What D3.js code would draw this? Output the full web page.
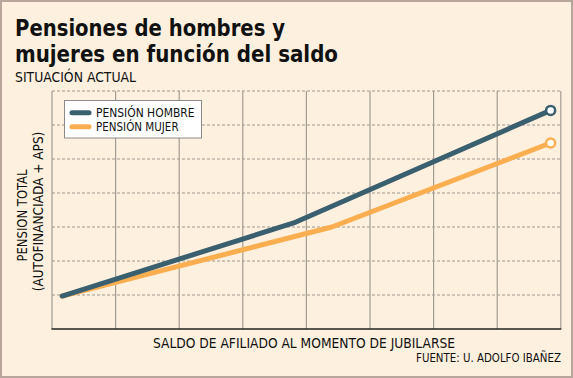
<!DOCTYPE html>
<html>
<head>
<meta charset="utf-8">
<script src="https://cdn.jsdelivr.net/npm/d3@7"></script>
<style>
  html, body { margin: 0; padding: 0; background: #fdf0de; }
  svg { display: block; }
  text { font-family: "DejaVu Sans Condensed", "DejaVu Sans", sans-serif; fill: #111; }
</style>
</head>
<body>
<svg id="chart" width="573" height="378"></svg>
<script>
// ---- Data ----
const title = ["Pensiones de hombres y", "mujeres en función del saldo"];
const subtitle = "SITUACIÓN ACTUAL";
const xLabel = "SALDO DE AFILIADO AL MOMENTO DE JUBILARSE";
const yLabel = ["PENSION TOTAL", "(AUTOFINANCIADA + APS)"];
const source = "FUENTE: U. ADOLFO IBAÑEZ";
const seriesNames = ["PENSIÓN HOMBRE", "PENSIÓN MUJER"];
const xTicks = [0, 1, 2, 3, 4, 5, 6, 7, 8];
const yTicks = [0, 1, 2, 3, 4, 5, 6, 7];
const hombreX = [0.16, 3.8, 7.84];
const hombreY = [0.97, 3.12, 6.43];
const mujerX = [0.16, 4.4, 7.84];
const mujerY = [0.97, 3.0, 5.47];

const colors = { hombre: "#3a5f6f", mujer: "#fbae4f" };

const svg = d3.select("#chart");
const W = 573, H = 378;

// frame
svg.append("rect").attr("x", 1).attr("y", 1).attr("width", W - 2).attr("height", H - 2)
  .attr("fill", "#fdf0de").attr("stroke", "#b8a59b").attr("stroke-width", 2);

const x = d3.scaleLinear().domain([0, 8]).range([52, 560.8]);
const y = d3.scaleLinear().domain([0, 7]).range([329, 91]);

function fit(sel, target) {
  const w = sel.node().getComputedTextLength();
  if (Math.abs(w - target) > 1) sel.attr("textLength", target).attr("lengthAdjust", "spacingAndGlyphs");
}

// grid
const g = svg.append("g");
g.selectAll("line.hg").data(yTicks.filter(d => d > 0)).join("line")
  .attr("x1", x(0)).attr("x2", x(8)).attr("y1", d => y(d)).attr("y2", d => y(d))
  .attr("stroke", "#9e9790").attr("stroke-width", 1).attr("stroke-dasharray", "3,2");
g.selectAll("line.vg").data(xTicks).join("line")
  .attr("x1", d => x(d)).attr("x2", d => x(d)).attr("y1", y(7)).attr("y2", y(0))
  .attr("stroke", "#a39c94").attr("stroke-width", 1.2);
// bottom axis
svg.append("line").attr("x1", x(0) - 0.5).attr("x2", x(8) + 0.5).attr("y1", y(0)).attr("y2", y(0))
  .attr("stroke", "#222").attr("stroke-width", 1.5);

// lines
const line = d3.line().x(d => x(d[0])).y(d => y(d[1]));
const hombre = hombreX.map((v, i) => [v, hombreY[i]]);
const mujer = mujerX.map((v, i) => [v, mujerY[i]]);
svg.append("path").datum(mujer).attr("d", line).attr("fill", "none")
  .attr("stroke", colors.mujer).attr("stroke-width", 5).attr("stroke-linecap", "round").attr("stroke-linejoin", "round");
svg.append("path").datum(hombre).attr("d", line).attr("fill", "none")
  .attr("stroke", colors.hombre).attr("stroke-width", 5).attr("stroke-linecap", "round").attr("stroke-linejoin", "round");
[[hombre, colors.hombre], [mujer, colors.mujer]].forEach(([s, c]) => {
  const last = s[s.length - 1];
  svg.append("circle").attr("cx", x(last[0])).attr("cy", y(last[1])).attr("r", 4.5)
    .attr("fill", "#fff").attr("stroke", c).attr("stroke-width", 2.5);
});

// legend
const lg = svg.append("g");
lg.append("rect").attr("x", 64.5).attr("y", 100.5).attr("width", 137).attr("height", 37.5)
  .attr("fill", "#fff").attr("stroke", "#8f8a86").attr("stroke-width", 1);
const legendColors = [colors.hombre, colors.mujer];
const legendWidths = [98.5, 82];
seriesNames.forEach((n, i) => {
  const yy = 112.7 + i * 14;
  lg.append("line").attr("x1", 72).attr("x2", 89).attr("y1", yy).attr("y2", yy)
    .attr("stroke", legendColors[i]).attr("stroke-width", 5).attr("stroke-linecap", "round");
  const t = lg.append("text").attr("x", 96).attr("y", yy + 4).attr("font-size", 11.5).text(n);
  fit(t, legendWidths[i]);
});

// titles
const titleWidths = [270, 323];
title.forEach((t, i) => {
  const tt = svg.append("text").attr("x", 15).attr("y", 35.5 + i * 26)
    .attr("font-size", 22.5).attr("font-weight", "bold").text(t);
  fit(tt, titleWidths[i]);
});
const st = svg.append("text").attr("x", 15).attr("y", 81.7).attr("font-size", 14).text(subtitle);
fit(st, 121);

// axis labels
const xl = svg.append("text").attr("x", 304).attr("y", 347.7).attr("text-anchor", "middle").attr("font-size", 14.5).text(xLabel);
fit(xl, 302);
const src = svg.append("text").attr("x", 561).attr("y", 361.7).attr("text-anchor", "end").attr("font-size", 12).text(source);
fit(src, 145);

const yl0 = svg.append("text").attr("transform", "translate(27,215.5) rotate(-90)").attr("text-anchor", "middle").attr("font-size", 13.5).text(yLabel[0]);
fit(yl0, 92);
const yl1 = svg.append("text").attr("transform", "translate(42.5,211.5) rotate(-90)").attr("text-anchor", "middle").attr("font-size", 13.5).text(yLabel[1]);
fit(yl1, 160);
</script>
</body>
</html>
